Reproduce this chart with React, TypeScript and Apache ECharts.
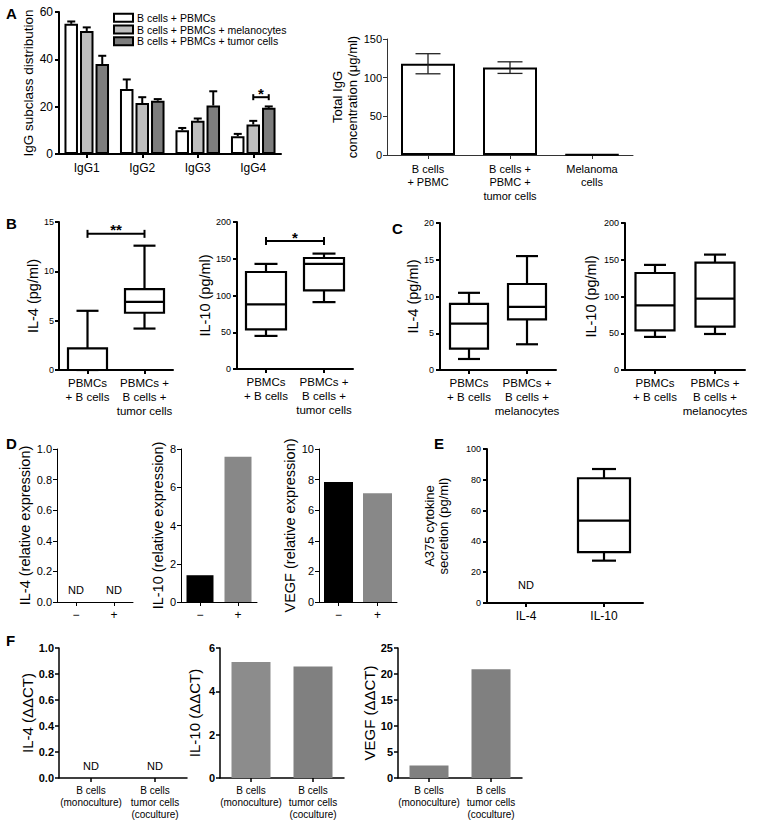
import React, { useEffect, useRef } from 'react';
import * as echarts from 'echarts';

const FONT = '"Liberation Sans", Arial, Helvetica, sans-serif';

// ---------- Panel A (left): IgG subclass distribution ----------
const A_CATS = ['IgG1', 'IgG2', 'IgG3', 'IgG4'];
const A_NAMES = ['B cells + PBMCs', 'B cells + PBMCs + melanocytes', 'B cells + PBMCs + tumor cells'];
const A_PBMC = [55, 27.5, 10, 7.5];
const A_PBMC_ERR = [1, 4, 1, 1];
const A_MEL = [52, 21.5, 14, 12.5];
const A_MEL_ERR = [1.5, 2.5, 1, 1.5];
const A_TUM = [38, 22.5, 20.5, 19.5];
const A_TUM_ERR = [3.5, 0.7, 6, 0.6];
const A_SIG = [[3, 24, 1, 2]]; // category, y, from series, to series
const A_SIG_TEXT = '*';

// ---------- Panel A (right): total IgG ----------
const T_CATS = ['B cells\n+ PBMC', 'B cells +\nPBMC +\ntumor cells', 'Melanoma\ncells'];
const T_VALS = [118, 113, 0.6];
const T_ERR = [13, 7.5, 0];

// ---------- Panel B ----------
const B_CATS = ['PBMCs\n+ B cells', 'PBMCs +\nB cells +\ntumor cells'];
// [min, Q1, median, Q3, max]
const B_IL4 = [[0, 0, 0, 2.2, 6], [4.2, 5.8, 6.9, 8.2, 12.6]];
const B_IL10 = [[45, 54, 88, 132, 143], [91, 107, 143, 151, 157]];
const B_IL4_SIG = [[0, 1, 13.8]];
const B_IL10_SIG = [[0, 1, 174]];

// ---------- Panel C ----------
const C_CATS = ['PBMCs\n+ B cells', 'PBMCs +\nB cells +\nmelanocytes'];
const C_IL4 = [[1.5, 2.9, 6.3, 9, 10.5], [3.5, 6.9, 8.6, 11.7, 15.5]];
const C_IL10 = [[45, 54, 88, 132, 143], [49, 59, 97, 146, 157]];

// ---------- Panel D ----------
const D_CATS = ['\u2212', '+'];
const D_IL4_ND = [0, 1];
const D_IL10 = [1.4, 7.6];
const D_VEGF = [7.85, 7.1];

// ---------- Panel E ----------
const E_CATS = ['IL-4', 'IL-10'];
const E_BOX = [[1, 27.5, 33, 53.5, 81, 87]]; // category index + [min,Q1,med,Q3,max]
const E_ND = [0];

// ---------- Panel F ----------
const F_CATS = ['B cells\n(monoculture)', 'B cells\ntumor cells\n(coculture)'];
const F_IL4_ND = [0, 1];
const F_IL10 = [5.35, 5.15];
const F_VEGF = [2.4, 20.9];

const GRIDS = [
  { left: 59, top: 12, width: 222, height: 142 }, // 0 A1
  { left: 387, top: 39, width: 246, height: 116 }, // 1 A2
  { left: 59, top: 222, width: 114, height: 148 }, // 2 B1
  { left: 237, top: 222, width: 116, height: 147 }, // 3 B2
  { left: 440, top: 223, width: 116, height: 147 }, // 4 C1
  { left: 625, top: 223, width: 120, height: 147 }, // 5 C2
  { left: 57, top: 449, width: 76, height: 153 }, // 6 D1
  { left: 181, top: 449, width: 76, height: 153 }, // 7 D2
  { left: 319, top: 449, width: 78, height: 153 }, // 8 D3
  { left: 487, top: 449, width: 156, height: 154 }, // 9 E
  { left: 59, top: 648, width: 128, height: 130 }, // 10 F1
  { left: 220, top: 648, width: 124, height: 130 }, // 11 F2
  { left: 398, top: 648, width: 124, height: 130 }, // 12 F3
];

function yAx(gi: number, max: number, interval: number, name: string, o: any = {}) {
  const axisLabel: any = {
    fontSize: o.tickSize ?? 11,
    color: '#000',
    fontFamily: FONT,
    margin: o.tickMargin ?? 5,
    fontWeight: o.bold ? 'bold' : 'normal',
  };
  if (o.fmt) axisLabel.formatter = o.fmt;
  return {
    type: 'value', gridIndex: gi, min: 0, max, interval,
    name, nameLocation: 'middle', nameGap: o.nameGap ?? 20, nameRotate: 90,
    nameTextStyle: { fontSize: o.nameSize ?? 14, color: '#000', fontFamily: FONT, lineHeight: o.nameLH ?? 15 },
    axisLine: { show: true, lineStyle: { color: o.color ?? '#000', width: o.lw ?? 1 } },
    axisTick: { show: true, length: 4, lineStyle: { color: o.color ?? '#000', width: o.lw ?? 1 } },
    splitLine: { show: false },
    axisLabel,
  };
}

function xAx(gi: number, cats: string[], o: any = {}) {
  return {
    type: 'category', gridIndex: gi, data: cats,
    axisLine: { show: true, lineStyle: { color: o.color ?? '#000', width: o.lw ?? 1 } },
    axisTick: { show: true, alignWithLabel: true, length: 4, lineStyle: { color: o.color ?? '#000', width: o.lw ?? 1 } },
    splitLine: { show: false },
    axisLabel: {
      interval: 0, fontSize: o.size ?? 12, color: '#000', fontFamily: FONT,
      lineHeight: o.lh ?? 14, margin: o.margin ?? 6,
    },
  };
}

function boxSeries(gi: number, data: number[][], boxW: number, capW: number, lw = 2.2) {
  return {
    type: 'custom', xAxisIndex: gi, yAxisIndex: gi, z: 5,
    data,
    encode: { x: 0, y: [1, 2, 3, 4, 5] },
    renderItem: (params: any, api: any) => {
      const c = api.value(0);
      const pMin = api.coord([c, api.value(1)]);
      const pQ1 = api.coord([c, api.value(2)]);
      const pMed = api.coord([c, api.value(3)]);
      const pQ3 = api.coord([c, api.value(4)]);
      const pMax = api.coord([c, api.value(5)]);
      const cx = pMin[0];
      const h = boxW / 2;
      const k = capW / 2;
      const st = { stroke: '#000', lineWidth: lw, fill: 'none' };
      return {
        type: 'group',
        children: [
          { type: 'line', shape: { x1: cx, y1: pMax[1], x2: cx, y2: pQ3[1] }, style: st },
          { type: 'line', shape: { x1: cx - k, y1: pMax[1], x2: cx + k, y2: pMax[1] }, style: st },
          { type: 'line', shape: { x1: cx, y1: pQ1[1], x2: cx, y2: pMin[1] }, style: st },
          { type: 'line', shape: { x1: cx - k, y1: pMin[1], x2: cx + k, y2: pMin[1] }, style: st },
          { type: 'rect', shape: { x: cx - h, y: pQ3[1], width: boxW, height: pQ1[1] - pQ3[1] }, style: { fill: '#fff', stroke: '#000', lineWidth: lw } },
          { type: 'line', shape: { x1: cx - h, y1: pMed[1], x2: cx + h, y2: pMed[1] }, style: st },
        ],
      };
    },
  };
}

function withIndex(rows: number[][]) {
  return rows.map((r, i) => [i, ...r]);
}

function bracketSeries(gi: number, data: number[][], text: string, tick = 4, offs?: (d: any) => [number, number]) {
  return {
    type: 'custom', xAxisIndex: gi, yAxisIndex: gi, z: 6,
    data,
    encode: { x: 0, y: data[0].length === 4 ? 1 : 2 },
    renderItem: (params: any, api: any) => {
      let x1: number, x2: number, y: number;
      if (offs) {
        const p = api.coord([api.value(0), api.value(1)]);
        const o = offs([api.value(2), api.value(3)]);
        x1 = p[0] + o[0]; x2 = p[0] + o[1]; y = p[1];
      } else {
        const a = api.coord([api.value(0), api.value(2)]);
        const b = api.coord([api.value(1), api.value(2)]);
        x1 = a[0]; x2 = b[0]; y = a[1];
      }
      const st = { stroke: '#000', lineWidth: 2 };
      return {
        type: 'group',
        children: [
          { type: 'line', shape: { x1, y1: y, x2, y2: y }, style: st },
          { type: 'line', shape: { x1, y1: y - tick, x2: x1, y2: y + tick }, style: st },
          { type: 'line', shape: { x1: x2, y1: y - tick, x2, y2: y + tick }, style: st },
          { type: 'text', style: { text, x: (x1 + x2) / 2, y: y - 4, align: 'center', verticalAlign: 'middle', fontSize: 15, fontWeight: 'bold', fontFamily: FONT, fill: '#000' } },
        ],
      };
    },
  };
}

function ndSeries(gi: number, cats: number[], dy = 12) {
  return {
    type: 'custom', xAxisIndex: gi, yAxisIndex: gi, z: 6,
    data: cats.map((c) => [c, 0]),
    encode: { x: 0, y: 1 },
    renderItem: (params: any, api: any) => {
      const p = api.coord([api.value(0), 0]);
      return { type: 'text', style: { text: 'ND', x: p[0], y: p[1] - dy, align: 'center', verticalAlign: 'middle', fontSize: 11, fontFamily: FONT, fill: '#000' } };
    },
  };
}

function buildOption() {
  const A_SERIES = [A_PBMC, A_MEL, A_TUM];
  const A_ERRS = [A_PBMC_ERR, A_MEL_ERR, A_TUM_ERR];
  const A_COLORS = ['#ffffff', '#bdbdbd', '#7d7d7d'];
  const A_STEP = 15.5;

  const xAxis: any[] = [
    xAx(0, A_CATS, { lw: 2, size: 12, margin: 7 }),
    xAx(1, T_CATS, { color: '#333', size: 11, lh: 13.5, margin: 7 }),
    xAx(2, B_CATS, { lw: 2, size: 11.5, lh: 14, margin: 6 }),
    xAx(3, B_CATS, { lw: 2, size: 11.5, lh: 14, margin: 6 }),
    xAx(4, C_CATS, { lw: 2, size: 11.5, lh: 14, margin: 6 }),
    xAx(5, C_CATS, { lw: 2, size: 11.5, lh: 14, margin: 6 }),
    xAx(6, D_CATS, { size: 12, margin: 6 }),
    xAx(7, D_CATS, { size: 12, margin: 6 }),
    xAx(8, D_CATS, { size: 12, margin: 6 }),
    xAx(9, E_CATS, { lw: 2, size: 12, margin: 6 }),
    xAx(10, F_CATS, { lw: 1.5, size: 10, lh: 12, margin: 6 }),
    xAx(11, F_CATS, { lw: 1.5, size: 10, lh: 12, margin: 6 }),
    xAx(12, F_CATS, { lw: 1.5, size: 10, lh: 12, margin: 6 }),
  ];

  const yAxis: any[] = [
    yAx(0, 60, 20, 'IgG subclass distribution', { lw: 2, tickSize: 12, nameSize: 13.5, nameGap: 19, tickMargin: 6 }),
    yAx(1, 150, 50, 'Total IgG\nconcentration (\u03bcg/ml)', { color: '#333', tickSize: 11, nameSize: 13, nameGap: 25, tickMargin: 5 }),
    yAx(2, 15, 5, 'IL-4 (pg/ml)', { lw: 2, tickSize: 9, nameSize: 14.5, nameGap: 19, tickMargin: 5 }),
    yAx(3, 200, 50, 'IL-10 (pg/ml)', { lw: 2, tickSize: 9, nameSize: 14.5, nameGap: 25, tickMargin: 6 }),
    yAx(4, 20, 5, 'IL-4 (pg/ml)', { lw: 2, tickSize: 9, nameSize: 14.5, nameGap: 20, tickMargin: 6 }),
    yAx(5, 200, 50, 'IL-10 (pg/ml)', { lw: 2, tickSize: 9, nameSize: 14.5, nameGap: 27, tickMargin: 6 }),
    yAx(6, 1, 0.2, 'IL-4 (relative expression)', { tickSize: 11, nameSize: 14.5, nameGap: 22, fmt: (v: number) => v.toFixed(1) }),
    yAx(7, 8, 2, 'IL-10 (relative expression)', { tickSize: 11, nameSize: 14.5, nameGap: 13 }),
    yAx(8, 10, 2, 'VEGF (relative expression)', { tickSize: 11, nameSize: 14.5, nameGap: 13 }),
    yAx(9, 100, 20, 'A375 cytokine\nsecretion (pg/ml)', { lw: 2, tickSize: 9, nameGap: 36, nameSize: 13, nameLH: 14.5, tickMargin: 6 }),
    yAx(10, 1, 0.2, 'IL-4 (\u0394\u0394CT)', { lw: 1.5, tickSize: 11, bold: true, nameSize: 15, nameGap: 21, fmt: (v: number) => v.toFixed(1) }),
    yAx(11, 6, 2, 'IL-10 (\u0394\u0394CT)', { lw: 1.5, tickSize: 11, bold: true, nameSize: 15, nameGap: 18 }),
    yAx(12, 25, 5, 'VEGF (\u0394\u0394CT)', { lw: 1.5, tickSize: 11, bold: true, nameSize: 15, nameGap: 17 }),
  ];

  const series: any[] = [];

  // A1 bars
  A_SERIES.forEach((vals, s) => {
    series.push({
      type: 'bar', name: A_NAMES[s], xAxisIndex: 0, yAxisIndex: 0,
      data: vals, barWidth: 13.5, barGap: '15%',
      itemStyle: { color: A_COLORS[s], borderColor: '#000', borderWidth: 2 },
    });
  });
  // A1 error bars
  series.push({
    type: 'custom', xAxisIndex: 0, yAxisIndex: 0, z: 4,
    data: A_SERIES.map((vals, s) => vals.map((v, i) => [i, v, A_ERRS[s][i], s])).flat(),
    encode: { x: 0, y: 1 },
    renderItem: (params: any, api: any) => {
      const c = api.value(0), v = api.value(1), e = api.value(2), s = api.value(3);
      const base = api.coord([c, v]);
      const top = api.coord([c, v + e]);
      const x = base[0] + (s - 1) * A_STEP;
      const st = { stroke: '#000', lineWidth: 2 };
      return {
        type: 'group', children: [
          { type: 'line', shape: { x1: x, y1: base[1], x2: x, y2: top[1] }, style: st },
          { type: 'line', shape: { x1: x - 4, y1: top[1], x2: x + 4, y2: top[1] }, style: st },
        ],
      };
    },
  });
  series.push(bracketSeries(0, A_SIG, A_SIG_TEXT, 3, (d) => [(d[0] - 1) * A_STEP, (d[1] - 1) * A_STEP]));

  // A2
  series.push({
    type: 'bar', xAxisIndex: 1, yAxisIndex: 1, data: T_VALS, barWidth: 54,
    itemStyle: { color: '#fff', borderColor: '#000', borderWidth: 2 },
  });
  series.push({
    type: 'custom', xAxisIndex: 1, yAxisIndex: 1, z: 4,
    data: T_VALS.map((v, i) => [i, v, T_ERR[i]]).filter((d) => d[2] > 0),
    encode: { x: 0, y: 1 },
    renderItem: (params: any, api: any) => {
      const c = api.value(0), v = api.value(1), e = api.value(2);
      const hi = api.coord([c, v + e]);
      const lo = api.coord([c, v - e]);
      const x = hi[0];
      const st = { stroke: '#222', lineWidth: 1.3 };
      return {
        type: 'group', children: [
          { type: 'line', shape: { x1: x, y1: hi[1], x2: x, y2: lo[1] }, style: st },
          { type: 'line', shape: { x1: x - 12.5, y1: hi[1], x2: x + 12.5, y2: hi[1] }, style: st },
          { type: 'line', shape: { x1: x - 12.5, y1: lo[1], x2: x + 12.5, y2: lo[1] }, style: st },
        ],
      };
    },
  });

  // B
  series.push(boxSeries(2, withIndex(B_IL4), 39, 22));
  series.push(bracketSeries(2, B_IL4_SIG, '**', 4));
  series.push(boxSeries(3, withIndex(B_IL10), 40, 23));
  series.push(bracketSeries(3, B_IL10_SIG, '*', 4));

  // C
  series.push(boxSeries(4, withIndex(C_IL4), 38, 22));
  series.push(boxSeries(5, withIndex(C_IL10), 39, 22));

  // D
  const D_COLORS = ['#000000', '#888888'];
  series.push(ndSeries(6, D_IL4_ND, 12));
  series.push({
    type: 'bar', xAxisIndex: 7, yAxisIndex: 7, barWidth: 27,
    data: D_IL10.map((v, i) => ({ value: v, itemStyle: { color: D_COLORS[i] } })),
  });
  series.push({
    type: 'bar', xAxisIndex: 8, yAxisIndex: 8, barWidth: 29,
    data: D_VEGF.map((v, i) => ({ value: v, itemStyle: { color: D_COLORS[i] } })),
  });

  // E
  series.push(boxSeries(9, E_BOX, 52, 24));
  series.push(ndSeries(9, E_ND, 18));

  // F
  series.push(ndSeries(10, F_IL4_ND, 12));
  const F_COLORS = ['#8c8c8c', '#808080'];
  series.push({
    type: 'bar', xAxisIndex: 11, yAxisIndex: 11, barWidth: 39,
    data: F_IL10.map((v, i) => ({ value: v, itemStyle: { color: F_COLORS[i] } })),
  });
  series.push({
    type: 'bar', xAxisIndex: 12, yAxisIndex: 12, barWidth: 39,
    data: F_VEGF.map((v) => ({ value: v, itemStyle: { color: '#808080' } })),
  });

  const letters = [
    ['A', 6, 6], ['B', 6, 216], ['C', 392, 221], ['D', 6, 436], ['E', 434, 436], ['F', 6, 633],
  ];

  return {
    animation: false,
    backgroundColor: '#ffffff',
    textStyle: { fontFamily: FONT },
    grid: GRIDS.map((g) => ({ ...g, containLabel: false })),
    xAxis,
    yAxis,
    series,
    legend: {
      data: A_NAMES,
      orient: 'vertical',
      left: 108, top: 7,
      itemWidth: 19, itemHeight: 8, itemGap: 0,
      icon: 'rect',
      textStyle: { fontSize: 10.5, color: '#000', fontFamily: FONT, lineHeight: 11.7, padding: [0, 0, 0, -1] },
      selectedMode: false,
    },
    graphic: letters.map(([t, x, y]) => ({
      type: 'text', left: x, top: y,
      style: { text: t, fontSize: 15, fontWeight: 'bold', fontFamily: FONT, fill: '#000' },
    })),
  };
}

export default function App() {
  const ref = useRef<HTMLDivElement>(null);
  useEffect(() => {
    if (!ref.current) return;
    const chart = echarts.init(ref.current, null, { renderer: 'svg' });
    chart.setOption(buildOption() as any);
    return () => chart.dispose();
  }, []);
  return (
    <div
      ref={ref}
      style={{ position: 'absolute', left: 0, top: 0, width: 765, height: 828, background: '#fff' }}
    />
  );
}
